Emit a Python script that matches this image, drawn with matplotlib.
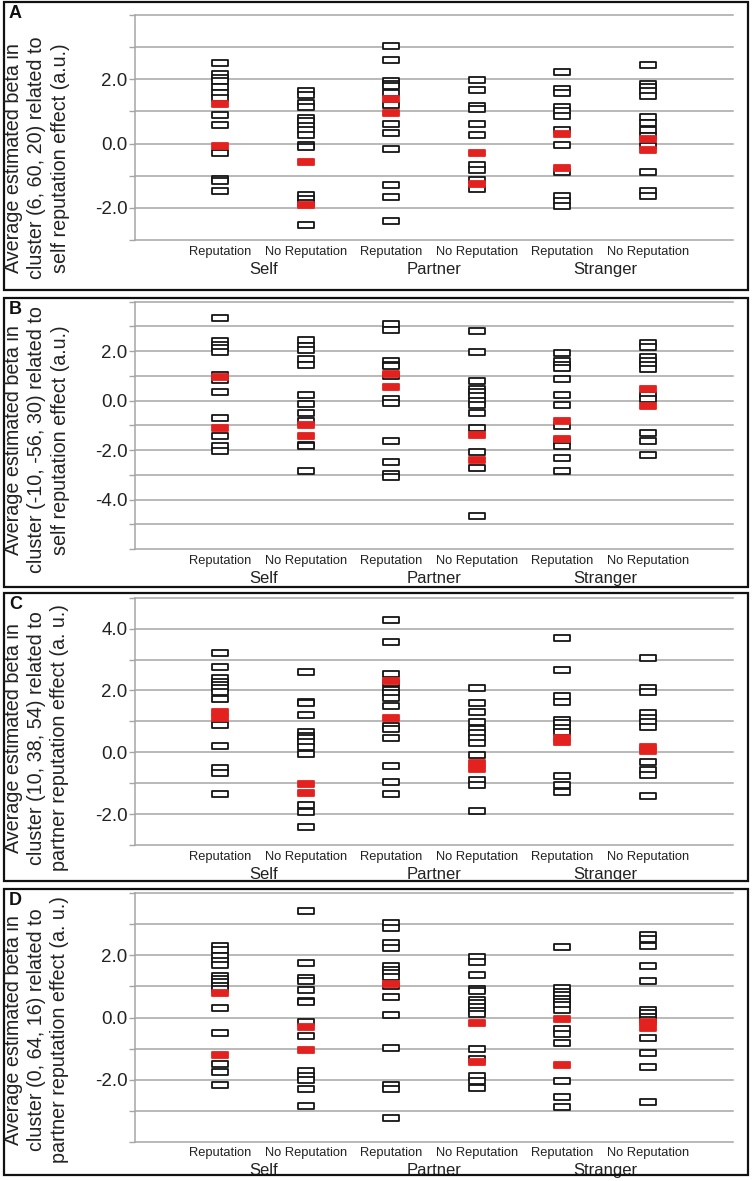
import matplotlib
matplotlib.use("Agg")
import matplotlib.pyplot as plt
from matplotlib.path import Path
from matplotlib.patches import Rectangle

plt.rcParams['font.family'] = ['Liberation Sans', 'DejaVu Sans']

# x categories
conditions = ["Reputation", "No Reputation"] * 3
groups = ["Self", "Partner", "Stranger"]
panel_letters = ["A", "B", "C", "D"]
ylabels = [
    ["Average estimated beta in", "cluster (6, 60, 20) related to", "self reputation effect (a.u.)"],
    ["Average estimated beta in", "cluster (-10, -56, 30) related to", "self reputation effect (a.u.)"],
    ["Average estimated beta in", "cluster (10, 38, 54) related to", "partner reputation effect (a. u.)"],
    ["Average estimated beta in", "cluster (0, 64, 16) related to", "partner reputation effect (a. u.)"],
]
ylims = [(-3, 4), (-6, 4), (-3, 5), (-4, 4)]
labeled_ticks = [[2, 0, -2], [2, 0, -2, -4], [4, 2, 0, -2], [2, 0, -2]]

# per-subject values (black) and highlighted subjects (red), columns in order
# Self Rep, Self NoRep, Partner Rep, Partner NoRep, Stranger Rep, Stranger NoRep
a_black = [
    [2.51, 2.15, 2.05, 1.95, 1.76, 1.57, 1.41, 0.88, 0.58, -0.28, -1.09, -1.17, -1.48],
    [1.62, 1.52, 1.26, 1.14, 0.80, 0.69, 0.56, 0.43, 0.27, -0.04, -0.11, -1.61, -1.72, -1.84, -2.54],
    [3.02, 2.61, 1.94, 1.86, 1.78, 1.57, 1.20, 0.62, 0.33, -0.17, -1.29, -1.65, -2.40],
    [1.99, 1.68, 1.18, 1.06, 0.62, 0.27, -0.68, -0.83, -1.12, -1.41],
    [2.23, 1.70, 1.57, 1.14, 1.00, 0.87, 0.42, -0.03, -0.90, -1.63, -1.79, -1.94],
    [2.44, 1.86, 1.76, 1.62, 1.47, 0.83, 0.64, 0.43, 0.25, -0.08, -0.88, -1.48, -1.63],
]
a_red = [[1.24, -0.08], [-0.57, -1.92], [1.39, 0.95], [-0.29, -1.27], [0.30, -0.75], [0.14, -0.19]]

b_black = [
    [3.34, 2.40, 2.26, 2.13, 1.97, 1.05, 0.85, 0.35, -0.70, -1.44, -1.85, -2.05],
    [2.47, 2.20, 2.06, 1.70, 1.43, 0.22, -0.13, -0.50, -0.81, -1.78, -1.85, -2.86],
    [3.10, 2.87, 1.59, 1.46, 1.39, 0.98, 0.08, -0.09, -1.62, -2.48, -2.96, -3.10],
    [2.80, 1.97, 0.78, 0.45, 0.35, 0.18, 0.0, -0.19, -0.50, -1.11, -2.08, -2.72, -4.68],
    [1.93, 1.59, 1.46, 1.32, 0.89, 0.22, -0.16, -1.04, -1.64, -1.85, -2.34, -2.83],
    [2.33, 2.16, 1.75, 1.59, 1.46, 1.29, 0.24, 0.08, -1.31, -1.62, -2.21],
]
b_red = [[0.95, -1.11], [-1.00, -1.44], [1.08, 0.54], [-1.37, -2.39], [-0.84, -1.54], [0.45, -0.23]]

c_black = [
    [3.20, 2.76, 2.41, 2.28, 2.18, 2.07, 1.96, 1.72, 0.88, 0.19, -0.50, -0.68, -1.35],
    [2.60, 1.64, 1.58, 1.19, 0.65, 0.54, 0.45, 0.32, 0.16, -0.06, -1.70, -1.92, -2.41],
    [4.29, 3.58, 2.52, 2.23, 2.02, 1.91, 1.75, 1.51, 0.86, 0.75, 0.47, -0.44, -0.97, -1.36],
    [2.07, 1.58, 1.31, 0.99, 0.75, 0.61, 0.45, 0.29, -0.09, -0.89, -1.06, -1.90],
    [3.71, 2.66, 1.82, 1.64, 1.05, 0.94, 0.80, 0.67, -0.77, -1.06, -1.29],
    [3.04, 2.07, 1.94, 1.26, 1.10, 0.97, 0.83, -0.32, -0.57, -0.73, -1.43],
]
c_red = [[1.31, 1.10], [-1.03, -1.33], [2.31, 1.10], [-0.36, -0.54], [0.47, 0.32], [0.18, 0.04]]

d_black = [
    [2.29, 2.18, 1.97, 1.81, 1.68, 1.35, 1.25, 1.14, 1.03, 0.92, 0.30, -0.51, -1.51, -1.74, -2.19],
    [3.44, 1.77, 1.27, 1.18, 0.89, 0.54, 0.49, -0.13, -0.58, -1.72, -1.90, -2.01, -2.30, -2.84],
    [3.04, 2.88, 2.40, 2.24, 1.65, 1.54, 1.43, 1.32, 1.00, 0.65, 0.09, -0.97, -2.19, -2.30, -3.25],
    [1.94, 1.78, 1.38, 0.92, 0.84, 0.57, 0.46, 0.35, 0.22, 0.11, -1.01, -1.33, -1.87, -2.06, -2.28],
    [2.26, 0.94, 0.82, 0.71, 0.60, 0.49, 0.39, 0.25, -0.37, -0.53, -0.83, -2.06, -2.55, -2.87],
    [2.67, 2.54, 2.31, 1.67, 1.18, 0.25, 0.14, 0.03, -0.08, -0.67, -1.15, -1.61, -2.71],
]
d_red = [[0.78, -1.20], [-0.32, -1.06], [1.08], [-0.18, -1.42], [-0.04, -1.53], [-0.15, -0.34]]

black_sets = [a_black, b_black, c_black, d_black]
red_sets = [a_red, b_red, c_red, d_red]

W, H = 752, 1181
fig = plt.figure(figsize=(W / 100, H / 100), dpi=100)

# pixel layout
boxes = [(2, 290), (298, 587), (593, 881), (889, 1175)]
axes_px = [(15, 240), (301.7, 549), (597.7, 845), (893.3, 1141.7)]
label_y = [158, 440, 738, 1030]
label_x = [14, 37, 60]
ax_left, ax_right = 135, 733

bar = Path([(-1, -0.38), (1, -0.38), (1, 0.38), (-1, 0.38), (-1, -0.38)],
           [Path.MOVETO, Path.LINETO, Path.LINETO, Path.LINETO, Path.CLOSEPOLY])
grid_col = "#a6a6a6"
red = "#e3211f"

for i in range(4):
    btop, bbot = boxes[i]
    fig.patches.append(Rectangle((4 / W, 1 - bbot / H), 744 / W, (bbot - btop) / H,
                                 transform=fig.transFigure, fill=False,
                                 edgecolor="#111111", linewidth=1.6))
    atop, abot = axes_px[i]
    ax = fig.add_axes([ax_left / W, 1 - abot / H, (ax_right - ax_left) / W, (abot - atop) / H])
    lo, hi = ylims[i]
    ax.set_xlim(0, 7)
    ax.set_ylim(lo, hi)
    ticks = list(range(lo, hi + 1))
    ax.set_yticks(ticks)
    ax.set_yticklabels([f"{t:.1f}" if t in labeled_ticks[i] else "" for t in ticks],
                       fontsize=13.5, color="#222222")
    ax.tick_params(axis="y", length=4.5, width=1, color=grid_col, pad=1)
    ax.yaxis.grid(True, color=grid_col, linewidth=1.1)
    for gl in ax.get_ygridlines():
        gl.set_clip_on(False)
    ax.set_axisbelow(True)
    for s in ["top", "right", "bottom"]:
        ax.spines[s].set_visible(False)
    ax.spines["left"].set_color(grid_col)
    ax.spines["left"].set_linewidth(1.1)

    positions = list(range(1, 7))
    ax.set_xticks(positions)
    ax.set_xticklabels(conditions, fontsize=9.3, color="#222222")
    ax.tick_params(axis="x", length=0, pad=4)
    for g, name in enumerate(groups):
        ax.annotate(name, xy=(positions[2 * g] + 0.5, 0), xycoords=("data", "axes fraction"),
                    xytext=(0, -21), textcoords="offset points", ha="center", va="center",
                    fontsize=12, color="#222222")

    for col, vals in enumerate(black_sets[i]):
        ax.plot([positions[col]] * len(vals), vals, linestyle="none", marker=bar,
                markersize=11.5, markerfacecolor="white", markeredgecolor="#151515",
                markeredgewidth=1.3, clip_on=False)
    for col, vals in enumerate(red_sets[i]):
        ax.plot([positions[col]] * len(vals), vals, linestyle="none", marker=bar,
                markersize=11.5, markerfacecolor=red, markeredgecolor=red,
                markeredgewidth=1.3, clip_on=False)

    # y label, one text per line so it sits under the panel letter
    for lx, line in zip(label_x, ylabels[i]):
        fig.text(lx / W, 1 - label_y[i] / H, line, rotation=90, ha="center", va="center",
                 fontsize=14.2, color="#222222")
    fig.text(9 / W, 1 - (btop + 3) / H, panel_letters[i], ha="left", va="top",
             fontsize=13, fontweight="bold", color="#111111")

fig.savefig("out.png", dpi=100)
